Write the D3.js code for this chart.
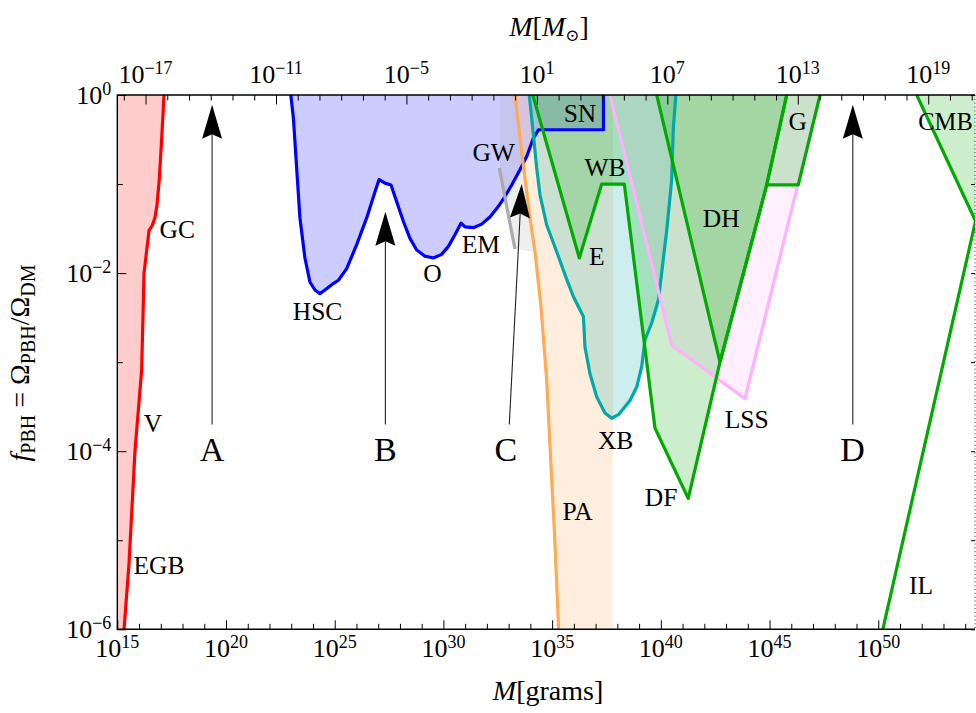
<!DOCTYPE html>
<html>
<head>
<meta charset="utf-8">
<script src="https://cdn.jsdelivr.net/npm/d3@7"></script>
<style>
body { margin: 0; background: #fff; }
text { font-family: "Liberation Serif", "DejaVu Serif", serif; fill: #000; }
</style>
</head>
<body>
<div id="chart"></div>
<script>
// all points are [log10(M / grams), log10(f_PBH)]
const redLine = [[15.31,-6],[15.54,-5.26],[15.81,-4.01],[16.12,-3.09],[16.23,-2.0],[16.46,-1.52],
  [16.60,-1.47],[16.73,-1.38],[16.82,-1.25],[16.93,-0.95],[17.02,-0.58],[17.15,0]];

const blueLine = [[22.98,0],[23.10,-0.26],[23.25,-0.82],[23.40,-1.38],[23.63,-1.83],[23.86,-2.10],
  [24.09,-2.19],[24.32,-2.23],[24.55,-2.19],[24.86,-2.13],[25.17,-2.08],[25.55,-1.95],[26.01,-1.68],
  [26.47,-1.38],[26.85,-1.09],[27.04,-0.95],[27.31,-0.99],[27.59,-1.01],[27.85,-1.20],[28.16,-1.42],
  [28.46,-1.61],[28.77,-1.74],[29.15,-1.81],[29.54,-1.83],[29.92,-1.79],[30.23,-1.70],[30.53,-1.57],
  [30.81,-1.44],[30.99,-1.48],[31.38,-1.49],[31.76,-1.45],[32.14,-1.37],[32.53,-1.25],[32.83,-1.14],
  [33.14,-1.01],[33.52,-0.84],[33.83,-0.69],[34.13,-0.49],[34.37,-0.39],[37.36,-0.39],[37.36,0]];

const gwLine = [[32.57,-0.82],[33.29,-1.73]];
const gwBand = [[32.6,0],[32.6,-0.82],[33.29,-1.73],[34.21,-1.76],[33.29,0]];

const orangeLine = [[33.29,0],[33.60,-0.64],[33.98,-1.38],[34.21,-1.76],[34.48,-2.36],[34.75,-3.20],
  [34.98,-4.32],[35.10,-4.88],[35.30,-6]];
const paEdge = 37.79;

const tealLine = [[33.95,0],[34.14,-0.45],[34.29,-0.82],[34.44,-1.12],[34.75,-1.46],[35.21,-1.76],
  [35.67,-2.07],[35.97,-2.26],[36.44,-2.49],[36.51,-2.83],[36.74,-3.13],[37.05,-3.39],[37.43,-3.57],
  [37.74,-3.63],[38.05,-3.59],[38.58,-3.43],[38.89,-3.28],[39.12,-3.05],[39.27,-2.75],[39.58,-2.56],
  [39.89,-2.30],[40.27,-1.52],[40.50,-0.95],[40.57,-0.39],[40.69,0]];

const greenMain = [[34.11,0],[36.25,-1.83],[37.28,-1.00],[38.32,-1.00],[39.73,-3.74],[41.26,-4.53],
  [42.72,-3.00],[44.87,-1.01],[45.79,0]];
const dhLine = [[39.81,0],[42.72,-3.00],[44.87,-1.01],[45.79,0]];
const gLine = [[44.87,-1.01],[46.32,-1.01],[47.32,0]];
const gClose = [[45.79,0]];
const lssLine = [[37.66,0],[40.50,-2.81],[43.87,-3.41],[47.32,0]];
const cmbLine = [[51.77,0],[55,-1.69]];
const ilLine = [[50.21,-6],[55,-0.85]];

// arrows: [label, mass from, f from, mass to, f to]
const arrows = [["A",19.36,-3.70,19.36,-0.11],["B",27.33,-3.70,27.33,-1.31],
  ["C",33.03,-3.70,33.60,-1.00],["D",48.83,-3.70,48.83,-0.11]];
const letterF = -4.11;
const letters = [["A",19.36],["B",27.33],["C",32.87],["D",48.82]];

const labels = [["GC",17.76,-1.61],["V",16.64,-3.78],["EGB",16.92,-5.38],["HSC",24.21,-2.53],
  ["O",29.50,-2.10],["EM",31.72,-1.77],["GW",32.31,-0.74],["SN",36.28,-0.30],["WB",37.43,-0.91],
  ["E",37.05,-1.91],["XB",37.92,-3.97],["PA",36.17,-4.77],["DF",40.01,-4.61],["LSS",43.95,-3.74],
  ["DH",42.78,-1.48],["G",46.29,-0.39],["IL",51.97,-5.6]];
const edgeLabels = [["CMB",51.84,-0.39]];

const massRange = [15, 54.45];
const xMajorExp = [15,20,25,30,35,40,45,50];
const topMajorExp = [-17,-11,-5,1,7,13,19];
const yMajorExp = [0,-2,-4,-6];
const MSUN = 1.989e33;

const plot = {left: 117.3, right: 975, top: 95, bottom: 629.3};

const svg = d3.select('#chart').append('svg').attr('width', 976).attr('height', 713);

const x = d3.scaleLog().domain([10 ** massRange[0], 10 ** massRange[1]]).range([plot.left, plot.right]);
const xTop = d3.scaleLog().domain([10 ** massRange[0] / MSUN, 10 ** massRange[1] / MSUN]).range([plot.left, plot.right]);
const y = d3.scaleLog().domain([1e-6, 1]).range([plot.bottom, plot.top]);

svg.append('defs').append('clipPath').attr('id', 'clip').append('rect')
  .attr('x', plot.left).attr('y', plot.top)
  .attr('width', plot.right - plot.left).attr('height', plot.bottom - plot.top);

let g = svg.append('g').attr('clip-path', 'url(#clip)');
let line = d3.line().x(d => x(10 ** d[0])).y(d => y(10 ** d[1]));

function area(pts, color, op) {
  g.append('path').attr('d', line(pts) + 'Z').attr('fill', color).attr('fill-opacity', op).attr('stroke', 'none');
}
function curve(pts, color, w) {
  g.append('path').attr('d', line(pts)).attr('fill', 'none').attr('stroke', color)
    .attr('stroke-width', w).attr('stroke-linejoin', 'round');
}

const red = '#ff0000', blue = '#0000ff', orange = '#ffaa55', teal = '#00a8a8',
  green = '#00aa00', pink = '#ffb0ff', gray = '#aaaaaa';

// fills
area(redLine.concat([[14.9,0],[14.9,-6.1]]), red, 0.2);
area(blueLine, blue, 0.2);
area(gwBand, gray, 0.2);
area(orangeLine.concat([[35.30,-6.1],[paEdge,-6.1],[paEdge,0]]), orange, 0.2);
area(tealLine, teal, 0.2);
area(lssLine, pink, 0.2);
area(greenMain, green, 0.2);
area(dhLine, green, 0.2);
area(gLine.concat(gClose), green, 0.2);
area(cmbLine.concat([[55,0]]), green, 0.2);

// boundary lines
curve(redLine, red, 3.2);
curve(blueLine, blue, 3.2);
curve(gwLine, gray, 3.2);
curve(orangeLine, orange, 3.2);
curve(tealLine, teal, 3.2);
curve(lssLine, pink, 3.2);
curve(greenMain, green, 3.2);
curve(dhLine, green, 3.2);
curve(gLine, green, 3.2);
curve(cmbLine, green, 3.2);
curve(ilLine, green, 3.2);

// arrows
arrows.forEach(function (a) {
  let x0 = x(10 ** a[1]), y0 = y(10 ** a[2]), x1 = x(10 ** a[3]), y1 = y(10 ** a[4]);
  let len = Math.hypot(x1 - x0, y1 - y0);
  let ux = (x1 - x0) / len, uy = (y1 - y0) / len;
  let nx = -uy, ny = ux;
  let L = 34, W = 10, notch = 4.5;
  svg.append('line').attr('x1', x0).attr('y1', y0)
    .attr('x2', x1 - ux * (L - notch)).attr('y2', y1 - uy * (L - notch))
    .attr('stroke', '#222').attr('stroke-width', 1.1);
  let head = [[x1, y1], [x1 - ux * L + nx * W, y1 - uy * L + ny * W],
    [x1 - ux * (L - notch), y1 - uy * (L - notch)], [x1 - ux * L - nx * W, y1 - uy * L - ny * W]];
  svg.append('path').attr('d', 'M' + head.join('L') + 'Z').attr('fill', '#000');
});

svg.append('g').selectAll('text').data(letters).join('text')
  .attr('x', d => x(10 ** d[1])).attr('y', y(10 ** letterF))
  .attr('text-anchor', 'middle').attr('font-size', 34).text(d => d[0]);

svg.append('g').selectAll('text').data(labels).join('text')
  .attr('x', d => x(10 ** d[1])).attr('y', d => y(10 ** d[2]))
  .attr('text-anchor', 'middle').attr('font-size', 25.5).text(d => d[0]);

svg.append('g').selectAll('text').data(edgeLabels).join('text')
  .attr('x', d => x(10 ** d[1])).attr('y', d => y(10 ** d[2]))
  .attr('text-anchor', 'start').attr('font-size', 24.5).text(d => d[0]);

// axes
function range(a, b) { return d3.range(a, b + 1); }
let xMinor = range(15, 54).filter(e => xMajorExp.indexOf(e) < 0).map(e => 10 ** e);
let topMinor = range(-18, 21).filter(e => topMajorExp.indexOf(e) < 0).map(e => 10 ** e);
let yMinor = [-1, -3, -5].map(e => 10 ** e);

function addAxis(axis, tx, ty) {
  let a = svg.append('g').attr('transform', 'translate(' + tx + ',' + ty + ')').call(axis);
  a.select('.domain').remove();
  a.selectAll('.tick line').attr('stroke', '#000').attr('stroke-width', 1);
  a.selectAll('.tick text').remove();
  return a;
}
addAxis(d3.axisBottom(x).tickValues(xMajorExp.map(e => 10 ** e)).tickSize(-9), 0, plot.bottom);
addAxis(d3.axisBottom(x).tickValues(xMinor).tickSize(-5.5), 0, plot.bottom);
addAxis(d3.axisTop(xTop).tickValues(topMajorExp.map(e => 10 ** e)).tickSize(-9.5), 0, plot.top);
addAxis(d3.axisTop(xTop).tickValues(topMinor).tickSize(-5.5), 0, plot.top);
addAxis(d3.axisLeft(y).tickValues(yMajorExp.map(e => 10 ** e)).tickSize(-9), plot.left, 0);
addAxis(d3.axisLeft(y).tickValues(yMinor).tickSize(-5.5), plot.left, 0);
addAxis(d3.axisRight(y).tickValues(range(-6, 0).map(e => 10 ** e)).tickSize(-4), plot.right, 0);

function power(sel) {
  sel.each(function (e) {
    let t = d3.select(this);
    t.append('tspan').text('10');
    t.append('tspan').attr('font-size', 18).attr('dy', -9).text(e < 0 ? '\u2212' + (-e) : String(e));
  });
}
svg.append('g').selectAll('text').data(xMajorExp).join('text')
  .attr('x', d => x(10 ** d)).attr('y', 657).attr('text-anchor', 'middle').attr('font-size', 26).call(power);
svg.append('g').selectAll('text').data(topMajorExp).join('text')
  .attr('x', d => xTop(10 ** d)).attr('y', 82.5).attr('text-anchor', 'middle').attr('font-size', 26).call(power);
svg.append('g').selectAll('text').data(yMajorExp).join('text')
  .attr('x', plot.left - 6).attr('y', d => y(10 ** d) + 8.5).attr('text-anchor', 'end').attr('font-size', 26).call(power);

// frame
svg.append('path')
  .attr('d', 'M' + plot.right + ',' + plot.top + 'H' + plot.left + 'V' + plot.bottom + 'H' + plot.right)
  .attr('fill', 'none').attr('stroke', '#000').attr('stroke-width', 1.4);
svg.append('line').attr('x1', plot.right).attr('x2', plot.right).attr('y1', plot.top).attr('y2', plot.bottom)
  .attr('stroke', '#444').attr('stroke-width', 1).attr('stroke-dasharray', '1.2,2.6');

// titles
let bt = svg.append('text').attr('x', 548).attr('y', 700).attr('text-anchor', 'middle').attr('font-size', 28);
bt.append('tspan').attr('font-style', 'italic').text('M');
bt.append('tspan').text('[grams]');

let tt = svg.append('text').attr('x', 549).attr('y', 36).attr('text-anchor', 'middle').attr('font-size', 28);
tt.append('tspan').attr('font-style', 'italic').text('M');
tt.append('tspan').text('[');
tt.append('tspan').attr('font-style', 'italic').text('M');
tt.append('tspan').attr('font-size', 17).attr('dy', 5).text('\u2299');
tt.append('tspan').attr('dy', -5).text(']');

let yt = svg.append('text').attr('transform', 'translate(29,363) rotate(-90)')
  .attr('text-anchor', 'middle').attr('font-size', 28);
yt.append('tspan').attr('font-style', 'italic').text('f');
yt.append('tspan').attr('font-size', 20).attr('dy', 6).text('PBH');
yt.append('tspan').attr('dy', -6).text(' = \u03A9');
yt.append('tspan').attr('font-size', 20).attr('dy', 6).text('PBH');
yt.append('tspan').attr('dy', -6).text('/\u03A9');
yt.append('tspan').attr('font-size', 20).attr('dy', 6).text('DM');
</script>
</body>
</html>
